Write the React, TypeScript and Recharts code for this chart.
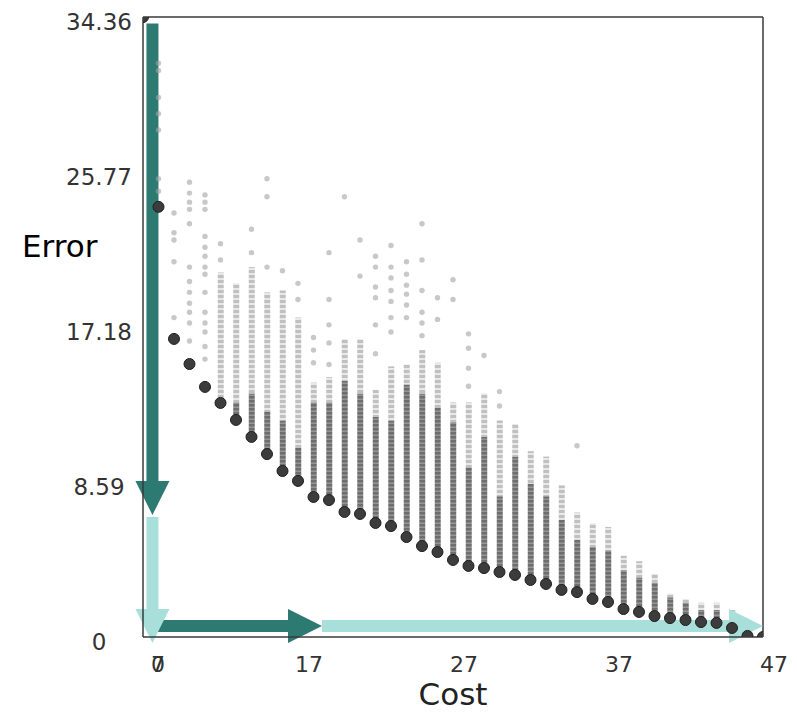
import React from 'react';
import { ComposedChart, Bar, Scatter, XAxis, YAxis, ReferenceLine } from 'recharts';

// cost columns along the front, and the best error reached at each
const frontierCosts = [
  7, 8, 9, 10, 11, 12, 13, 14, 15, 16, 17, 18, 19, 20, 21, 22, 23, 24, 25, 26, 27,
  28, 29, 30, 31, 32, 33, 34, 35, 36, 37, 38, 39, 40, 41, 42, 43, 44, 45, 46, 47,
];
const frontierErrors = [
  34.36, 23.84, 16.52, 15.13, 13.86, 12.97, 12.03, 11.09, 10.14, 9.2, 8.65, 7.76,
  7.59, 6.93, 6.82, 6.32, 6.15, 5.54, 5.04, 4.71, 4.27, 3.94, 3.82, 3.6, 3.44, 3.16,
  2.94, 2.61, 2.49, 2.11, 1.94, 1.55, 1.39, 1.16, 1.05, 0.94, 0.83, 0.78, 0.5, 0.06, 0,
];
// where the dark (dense) and grey (sparser) bands of candidates end, per column
const denseTops = [
  34.36, 23.84, 16.52, 15.13, 13.86, 12.97, 13.0, 13.5, 12.5, 12.0, 10.5, 13.0,
  13.0, 14.2, 13.5, 12.2, 12.0, 14.0, 13.5, 12.7, 11.9, 9.4, 11.1, 7.8, 10.0, 8.5,
  7.8, 6.5, 5.4, 5.0, 4.8, 3.7, 3.3, 3.0, 2.2, 1.9, 1.5, 1.5, 1.3, 0.06, 0,
];
const midTops = [
  34.36, 23.84, 16.52, 15.13, 13.86, 20.2, 19.6, 20.5, 19.1, 19.2, 17.7, 14.1,
  14.4, 16.5, 16.5, 13.7, 15.0, 15.1, 15.9, 15.2, 13.0, 13.0, 13.5, 12.0, 11.8, 10.3,
  10.0, 8.4, 6.9, 6.3, 6.1, 4.5, 4.2, 3.5, 2.4, 2.1, 1.9, 1.9, 1.5, 0.06, 0,
];
// scattered candidates above the bands: [cost, error]
const cloudPoints: [number, number][] = [
  [8, 31.8], [8, 31.4], [8, 29.9], [8, 29.0], [8, 28.1], [8, 25.4], [8, 24.7],
  [9, 23.5], [9, 22.4], [9, 22.0], [9, 20.8], [9, 17.7],
  [10, 25.2], [10, 24.6], [10, 24.1], [10, 23.7], [10, 22.9], [10, 20.5], [10, 19.7],
  [10, 19.1], [10, 18.5], [10, 18.0], [10, 17.4], [10, 16.4],
  [11, 24.5], [11, 24.1], [11, 23.7], [11, 22.2], [11, 21.6], [11, 21.1], [11, 20.5],
  [11, 20.1], [11, 19.1], [11, 18.0], [11, 17.4], [11, 16.9], [11, 16.1], [11, 15.4],
  [12, 21.8], [12, 20.9],
  [14, 22.6], [14, 21.3],
  [15, 25.4], [15, 24.4], [15, 20.5],
  [16, 20.3],
  [17, 19.6], [17, 18.7],
  [18, 16.6], [18, 15.9], [18, 15.2],
  [19, 21.3], [19, 18.7], [19, 17.3], [19, 16.3], [19, 15.1],
  [20, 24.4],
  [21, 22.0], [21, 20.0],
  [22, 21.1], [22, 20.5], [22, 19.4], [22, 18.8], [22, 17.3], [22, 15.7],
  [23, 21.7], [23, 20.5], [23, 19.9], [23, 19.2], [23, 18.6], [23, 17.7], [23, 16.9],
  [24, 20.8], [24, 20.1], [24, 19.5], [24, 19.0], [24, 18.4], [24, 17.7],
  [25, 22.9], [25, 20.9], [25, 19.2], [25, 18.0], [25, 17.4], [25, 16.7],
  [26, 18.8], [26, 17.6],
  [27, 19.8], [27, 18.7],
  [28, 16.8], [28, 16.0], [28, 14.9], [28, 13.9],
  [29, 15.6],
  [30, 13.6], [30, 12.8],
  [35, 10.6],
];

const xTicks = [7, 17, 27, 37, 47];
const yTicks = [0, 8.59, 17.18, 25.77, 34.36];

const DARK_TEAL = '#2d7a73';
const LIGHT_TEAL = '#a9dfda';
const FONT = '"DejaVu Sans", sans-serif';

const bandRows = frontierCosts.map((cost, i) => ({
  cost,
  base: frontierErrors[i],
  dense: denseTops[i] - frontierErrors[i],
  mid: midTops[i] - denseTops[i],
}));
const frontierRows = frontierCosts.map((cost, i) => ({ cost, error: frontierErrors[i] }));
const cloudRows = cloudPoints.map(([cost, error]) => ({ cost, error }));

// thick arrow; `extra` pushes the tip a few px past the segment end
function Arrow(props: any) {
  const { x1, y1, color, extra = 0 } = props;
  const len0 = Math.hypot(props.x2 - x1, props.y2 - y1) || 1;
  const ux = (props.x2 - x1) / len0;
  const uy = (props.y2 - y1) / len0;
  const x2 = props.x2 + ux * extra;
  const y2 = props.y2 + uy * extra;
  const px = -uy;
  const py = ux;
  const head = 34;
  const hw = 17;
  const sw = 6;
  const bx = x2 - ux * head;
  const by = y2 - uy * head;
  return (
    <g>
      <polygon
        points={`${x1 + px * sw},${y1 + py * sw} ${bx + px * sw},${by + py * sw} ${bx - px * sw},${by - py * sw} ${x1 - px * sw},${y1 - py * sw}`}
        fill={color}
      />
      <polygon
        points={`${bx + px * hw},${by + py * hw} ${x2},${y2} ${bx - px * hw},${by - py * hw}`}
        fill={color}
      />
    </g>
  );
}

function XTick({ x, y, payload }: any) {
  const first = payload.value === 7;
  return (
    <g fontFamily={FONT} fontSize={22} fill="#333">
      <text x={x + (first ? 15 : 11)} y={y + 27} textAnchor="middle">{payload.value}</text>
      {first && <text x={x + 15} y={y + 27} textAnchor="middle">0</text>}
    </g>
  );
}

function YTick({ y, payload }: any) {
  return (
    <text x={99} y={y + 13} textAnchor="middle" fontFamily={FONT} fontSize={23} fill="#333">
      {payload.value}
    </text>
  );
}

export default function App() {
  return (
    <div style={{ position: 'absolute', left: 0, top: 0, width: 797, height: 713, background: '#fff' }}>
      <svg width={0} height={0} style={{ position: 'absolute' }}>
        <defs>
          <pattern id="densePat" patternUnits="userSpaceOnUse" width={8} height={4}>
            <rect width={8} height={4} fill="#8a8a8a" />
            <rect y={0} width={8} height={2.5} fill="#5e5e5e" />
          </pattern>
          <pattern id="midPat" patternUnits="userSpaceOnUse" width={8} height={5}>
            <rect width={8} height={5} fill="#e2e2e2" />
            <rect y={0} width={8} height={3} fill="#b0b0b0" />
          </pattern>
        </defs>
      </svg>
      <ComposedChart
        width={797}
        height={713}
        data={bandRows}
        margin={{ top: 17, right: 34, bottom: 16, left: 0 }}
      >
        <XAxis
          type="number"
          dataKey="cost"
          domain={[7, 47]}
          ticks={xTicks}
          allowDataOverflow
          height={60}
          tickLine={false}
          axisLine={{ stroke: '#3a3a3a', strokeWidth: 1.5 }}
          tick={<XTick />}
          label={({ viewBox }: any) => (
            <text
              x={viewBox.x + viewBox.width / 2}
              y={viewBox.y + 68}
              textAnchor="middle"
              fontFamily={FONT}
              fontSize={31}
              fill="#222"
            >
              Cost
            </text>
          )}
        />
        <YAxis
          type="number"
          domain={[0, 34.36]}
          ticks={yTicks}
          allowDataOverflow
          width={143}
          tickLine={false}
          axisLine={{ stroke: '#3a3a3a', strokeWidth: 1.5 }}
          tick={<YTick />}
          label={({ viewBox }: any) => (
            <text x={22} y={viewBox.y + 240} fontFamily={FONT} fontSize={31} fill="#000">
              Error
            </text>
          )}
        />
        <ReferenceLine y={34.36} stroke="#3a3a3a" strokeWidth={1.5} />
        <ReferenceLine x={47} stroke="#3a3a3a" strokeWidth={1.5} />

        <Bar dataKey="base" stackId="s" barSize={6} fill="transparent" isAnimationActive={false} />
        <Bar dataKey="dense" stackId="s" barSize={6} fill="url(#densePat)" fillOpacity={0.9} isAnimationActive={false} />
        <Bar dataKey="mid" stackId="s" barSize={6} fill="url(#midPat)" fillOpacity={0.8} isAnimationActive={false} />

        <Scatter
          data={cloudRows}
          dataKey="error"
          isAnimationActive={false}
          shape={(p: any) => <circle cx={p.cx} cy={p.cy} r={2.7} fill="#a4a4a4" fillOpacity={0.6} />}
        />
        <Scatter
          data={frontierRows}
          dataKey="error"
          isAnimationActive={false}
          shape={(p: any) => (
            <circle cx={p.cx} cy={p.cy} r={5.5} fill="#3c3c3c" stroke="#1f1f1f" strokeWidth={1} />
          )}
        />

        <ReferenceLine
          segment={[{ x: 7.61, y: 34.0 }, { x: 7.61, y: 6.76 }]}
          ifOverflow="visible"
          shape={(p: any) => <Arrow {...p} color={DARK_TEAL} />}
        />
        <ReferenceLine
          segment={[{ x: 7.97, y: 0.61 }, { x: 18.55, y: 0.61 }]}
          ifOverflow="visible"
          shape={(p: any) => <Arrow {...p} color={DARK_TEAL} />}
        />
        <ReferenceLine
          segment={[{ x: 18.55, y: 0.61 }, { x: 47, y: 0.61 }]}
          ifOverflow="visible"
          shape={(p: any) => <Arrow {...p} color={LIGHT_TEAL} />}
        />
        <ReferenceLine
          segment={[{ x: 7.61, y: 6.65 }, { x: 7.61, y: 0 }]}
          ifOverflow="visible"
          shape={(p: any) => <Arrow {...p} color={LIGHT_TEAL} extra={6} />}
        />
      </ComposedChart>
    </div>
  );
}
